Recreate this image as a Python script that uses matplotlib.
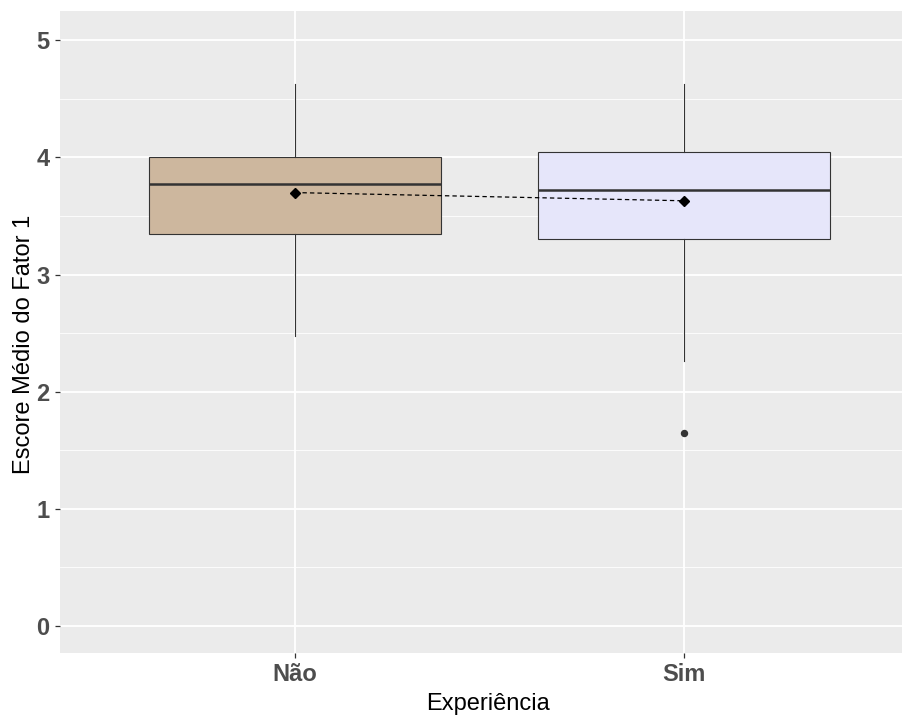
import matplotlib.pyplot as plt
import numpy as np

# values
categories = ['Não', 'Sim']
q1 = [3.35, 3.30]
medians = [3.77, 3.72]
q3 = [4.00, 4.05]
whisker_low = [2.48, 2.26]
whisker_high = [4.63, 4.63]
means = [3.70, 3.63]
outliers = [[], [1.65]]
fills = ['#CDB79E', '#E6E6FA']

plt.rcParams['font.family'] = ['Liberation Sans', 'DejaVu Sans']

W, H = 903, 716
fig = plt.figure(figsize=(W / 100, H / 100), dpi=100)
ax = fig.add_axes([60 / W, (716 - 653) / H, (903 - 60) / W, (653 - 11) / H])
ax.set_facecolor('#EBEBEB')

positions = np.arange(1, len(categories) + 1)

stats = []
for i, c in enumerate(categories):
    stats.append({'label': c, 'q1': q1[i], 'med': medians[i], 'q3': q3[i],
                  'whislo': whisker_low[i], 'whishi': whisker_high[i],
                  'fliers': outliers[i]})

bp = ax.bxp(stats, positions=positions, widths=0.75, patch_artist=True,
            showcaps=False, showfliers=True,
            boxprops=dict(edgecolor='#333333', linewidth=0.8),
            medianprops=dict(color='#333333', linewidth=1.8, solid_capstyle='butt'),
            whiskerprops=dict(color='#333333', linewidth=0.8),
            flierprops=dict(marker='o', markersize=4.3, markerfacecolor='#333333',
                            markeredgecolor='#333333'),
            zorder=3)
for patch, col in zip(bp['boxes'], fills):
    patch.set_facecolor(col)

# mean line and points
ax.plot(positions, means, linestyle=(0, (3.5, 2.5)), color='black', linewidth=0.9, zorder=4)
ax.plot(positions, means, linestyle='none', marker='D', markersize=5.5,
        color='black', zorder=5)

ax.set_xlim(0.396, 2.563)
ax.set_ylim(-0.23, 5.25)

ax.set_yticks(np.arange(0, 6, 1))
ax.set_yticks(np.arange(0.5, 5.5, 1), minor=True)
ax.set_xticks(positions)
ax.set_xticklabels(categories)

ax.grid(True, which='major', color='white', linewidth=1.3, zorder=0)
ax.grid(True, which='minor', axis='y', color='white', linewidth=0.6, zorder=0)
ax.set_axisbelow(True)

for s in ax.spines.values():
    s.set_visible(False)

ax.tick_params(axis='both', which='major', length=3.5, width=0.9, color='#333333',
               labelcolor='#4D4D4D', labelsize=17, pad=4)
ax.tick_params(axis='y', which='minor', length=0)
for lbl in ax.get_xticklabels() + ax.get_yticklabels():
    lbl.set_fontweight('bold')

ax.set_xlabel('Experiência', fontsize=17, color='black')
ax.set_ylabel('Escore Médio do Fator 1', fontsize=17, color='black')
# the original panel runs past the right edge, so its title sits a bit right of centre
ax.xaxis.set_label_coords(0.508, -0.062)
ax.yaxis.set_label_coords(-0.030, 0.48)

fig.savefig('out.png', dpi=100)
